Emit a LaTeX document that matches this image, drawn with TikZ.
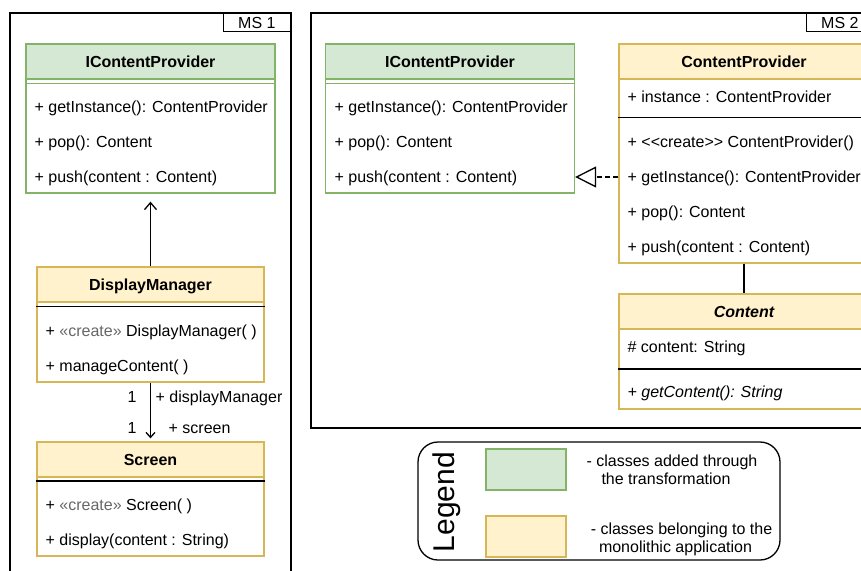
\documentclass[tikz,border=0pt]{standalone}
\usepackage{fontspec}
\setmainfont{Liberation Sans}[Ligatures=TeXOff]
\usetikzlibrary{arrows.meta}
\definecolor{grnfill}{HTML}{D5E8D4}
\definecolor{grnline}{HTML}{82B366}
\definecolor{yelfill}{HTML}{FFF2CC}
\definecolor{yelline}{HTML}{D6B656}

\begin{document}
\begin{tikzpicture}[x=1pt,y=-1pt,line width=1.3pt,
  txt/.style={inner sep=0pt,font=\fontsize{16}{19}\selectfont,text height=11.5pt,text depth=0pt},
  item/.style={txt,anchor=west},
  head/.style={txt,draw,minimum height=35pt,font=\fontsize{16}{19}\selectfont\bfseries},
  grnhead/.style={head,draw=grnline,fill=grnfill,minimum width=249pt},
  grnbody/.style={draw=grnline,inner sep=0pt,minimum width=249pt},
  yelhead/.style={head,draw=yelline,fill=yelfill},
  yelbody/.style={draw=yelline,inner sep=0pt},
  assoc/.style={-{Straight Barb[length=7pt,width=12pt]}},
  realize/.style={dash pattern=on 5pt off 3pt,-{Triangle[open,length=21pt,width=21pt,fill=white]}}]
  \useasboundingbox (0,0) rectangle (861,570);
  \clip (0,0) rectangle (861,570);

  \draw (10,13) rectangle (291,590);
  \draw (311,13) rectangle (874,428);
  \node[txt,draw,minimum width=67pt,minimum height=18pt,anchor=north east] (ms1) at (291,13) {MS 1};
  \node[txt,draw,minimum width=67pt,minimum height=18pt,anchor=north east] (ms2) at (874,13) {MS 2};

  \node[grnhead] (iplhead) at (150.5,61.5) {IContentProvider};
  \node[grnbody,minimum height=114pt] (iplbody) at (150.5,136) {};
  \draw[grnline] ([yshift=-5pt]iplbody.north west) -- ([yshift=-5pt]iplbody.north east);
  \node[item] (iplget) at (34,107) {+ getInstance(): ContentProvider};
  \node[item] (iplpop) at (34,142) {+ pop(): Content};
  \node[item] (iplpush) at (34,177) {+ push(content : Content)};

  \node[yelhead,minimum width=227pt] (dmhead) at (150.5,284.5) {DisplayManager};
  \node[yelbody,minimum width=227pt,minimum height=80pt] (dmbody) at (150.5,342) {};
  \draw ([yshift=-5pt]dmbody.north west) -- ([yshift=-5pt]dmbody.north east);
  \node[item] (dmnew) at (45,331) {+ \textcolor{black!60}{«create»} DisplayManager( )};
  \node[item] (dmman) at (45,366) {+ manageContent( )};

  \node[yelhead,minimum width=227pt] (scrhead) at (150.5,459.5) {Screen};
  \node[yelbody,minimum width=227pt,minimum height=79pt] (scrbody) at (150.5,516.5) {};
  \draw ([yshift=-4.5pt]scrbody.north west) -- ([yshift=-4.5pt]scrbody.north east);
  \node[item] (scrnew) at (45,505) {+ \textcolor{black!60}{«create»} Screen( )};
  \node[item] (scrdisp) at (45,540) {+ display(content : String)};

  \draw[assoc,shorten >=8pt] (dmhead.north) -- (iplbody.south);
  \draw[-{Straight Barb[length=5pt,width=9pt]},shorten >=3pt] (dmbody.south) -- (scrhead.north);
  \node[txt] (mult1) at (132,397) {1};
  \node[item] (role1) at (155,397) {+ displayManager};
  \node[txt] (mult2) at (132,428) {1};
  \node[item] (role2) at (168,428) {+ screen};

  \node[grnhead] (iprhead) at (450,61.5) {IContentProvider};
  \node[grnbody,minimum height=114pt] (iprbody) at (450,136) {};
  \draw[grnline] ([yshift=-5pt]iprbody.north west) -- ([yshift=-5pt]iprbody.north east);
  \node[item] (iprget) at (334,107) {+ getInstance(): ContentProvider};
  \node[item] (iprpop) at (334,142) {+ pop(): Content};
  \node[item] (iprpush) at (334,177) {+ push(content : Content)};

  \node[yelhead,minimum width=250pt] (cphead) at (744,61.5) {ContentProvider};
  \node[yelbody,minimum width=250pt,minimum height=184pt] (cpbody) at (744,171) {};
  \draw ([yshift=-39pt]cpbody.north west) -- ([yshift=-39pt]cpbody.north east);
  \node[item] (cpinst) at (627,97) {+ instance : ContentProvider};
  \node[item] (cpnew) at (627,142) {+ <<create>> ContentProvider()};
  \node[item] (cpget) at (627,177) {+ getInstance(): ContentProvider};
  \node[item] (cppop) at (627,212) {+ pop(): Content};
  \node[item] (cppush) at (627,247) {+ push(content : Content)};

  \node[yelhead,minimum width=250pt,font=\fontsize{16}{19}\selectfont\bfseries\itshape] (ctnhead) at (744,311.5) {Content};
  \node[yelbody,minimum width=250pt,minimum height=80pt] (ctnbody) at (744,369) {};
  \draw (ctnbody.west) -- (ctnbody.east);
  \node[item] (ctnattr) at (627,347) {\# content: String};
  \node[item,font=\fontsize{16}{19}\selectfont\itshape] (ctnget) at (627,392) {+ getContent(): String};

  \draw[realize] (cpbody.west |- cpget) -- (iprbody.east |- cpget);
  \draw (cpbody.south) -- (ctnhead.north);

  \node[draw,rounded corners=20pt,minimum width=362pt,minimum height=118pt] (legend) at (599,501) {};
  \node[txt,font=\fontsize{30}{36}\selectfont,text height=21.5pt,rotate=90] (legtitle) at (444,502) {Legend};
  \node[draw=grnline,fill=grnfill,minimum width=80pt,minimum height=41pt] (grnkey) at (526,469.5) {};
  \node[draw=yelline,fill=yelfill,minimum width=80pt,minimum height=41pt] (yelkey) at (526,536.5) {};
  \node[txt] (grntxt1) at (672,461) {- classes added through};
  \node[txt] (grntxt2) at (666,479) {the transformation};
  \node[txt] (yeltxt1) at (681.5,529) {- classes belonging to the};
  \node[txt] (yeltxt2) at (675.5,547) {monolithic application};
\end{tikzpicture}
\end{document}
